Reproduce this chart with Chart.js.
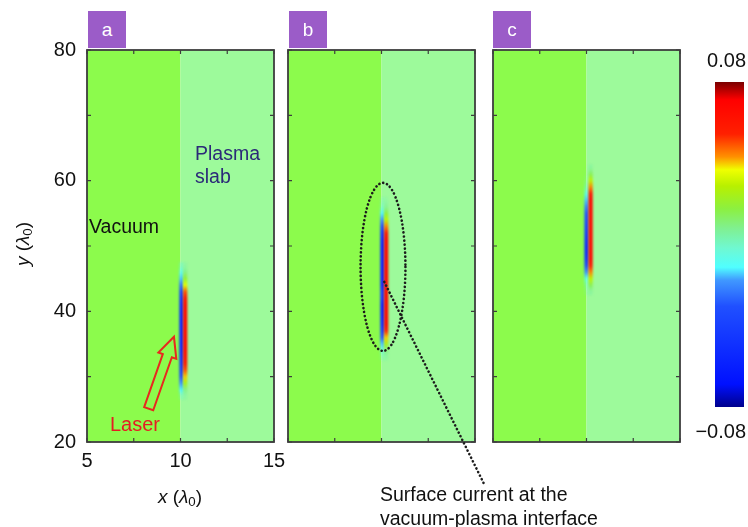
<!DOCTYPE html>
<html>
<head>
<meta charset="utf-8">
<script src="https://cdn.jsdelivr.net/npm/chart.js@4.4.0/dist/chart.umd.min.js"></script>
<style>
  body { margin: 0; background: #fff; font-family: "Liberation Sans", Arial, sans-serif; }
  #wrap { position: relative; width: 748px; height: 527px; overflow: hidden; }
  canvas { position: absolute; left: 0; top: 0; }
  #cbar { left: 690px; top: 40px; }
  .tag { position: absolute; top: 11px; width: 38px; height: 37px; background: #9b5cc8; color: #fff;
         font-size: 19px; text-align: center; line-height: 37px; }
  .txt { position: absolute; font-size: 19px; line-height: 24px; white-space: nowrap; color: #111; }
  .txt sub { font-size: 70%; vertical-align: -3px; line-height: 0; }
</style>
</head>
<body>
<div id="wrap">
  <canvas id="pa" width="748" height="527"></canvas>
  <canvas id="pb" width="748" height="527"></canvas>
  <canvas id="pc" width="748" height="527"></canvas>
  <canvas id="cbar" width="58" height="420"></canvas>

  <div class="tag" style="left:88px">a</div>
  <div class="tag" style="left:289px">b</div>
  <div class="tag" style="left:493px">c</div>

  <div class="txt" style="left:89px; top:214px; font-size:19.5px">Vacuum</div>
  <div class="txt" style="left:195px; top:142px; line-height:23px; font-size:19.5px; color:#2b2a78">Plasma<br>slab</div>
  <div class="txt" style="left:110px; top:412px; font-size:20px; color:#e51c23">Laser</div>
  <div class="txt" style="left:380px; top:482px; font-size:19.5px">Surface current at the<br>vacuum-plasma interface</div>

  <div class="txt" style="left:130px; top:485px; width:100px; text-align:center"><i>x</i> (<i>λ</i><sub>0</sub>)</div>
  <div class="txt" style="left:-27px; top:232px; width:100px; text-align:center; transform:rotate(-90deg)"><i>y</i> (<i>λ</i><sub>0</sub>)</div>
</div>

<script>
// simulation window (in laser wavelengths)
const xRange = [5, 15];
const yRange = [20, 80];
const interfaceX = 10;
const xLabels = [5, 10, 15];
const yLabels = [20, 40, 60, 80];
const colorRange = [-0.08, 0.08];
const colorTicks = [0.08, -0.08];

// surface current Jy along the interface: one column each side of the sign change
// (a) laser just hitting the slab
const aY = [27, 28, 29, 30, 31, 32, 33, 34, 35, 36, 37, 38, 39, 40, 41, 42, 43, 44, 45, 46, 47];
const aNeg = [-0.004, -0.012, -0.02, -0.035, -0.045, -0.05, -0.055, -0.058, -0.06, -0.06, -0.06,
              -0.06, -0.06, -0.058, -0.055, -0.05, -0.04, -0.025, -0.015, -0.01, -0.005];
const aPos = [0.004, 0.01, 0.025, 0.04, 0.05, 0.06, 0.065, 0.068, 0.068, 0.068, 0.068,
              0.068, 0.068, 0.068, 0.068, 0.062, 0.05, 0.035, 0.02, 0.01, 0.004];
const aColX = [10.05, 10.25];

// (b) current running up the surface
const bY = [33, 34, 35, 36, 37, 38, 39, 40, 41, 42, 43, 44, 45, 46, 47, 48, 49, 50, 51, 52, 53, 54, 55, 56, 57];
const bNeg = [-0.003, -0.008, -0.015, -0.03, -0.045, -0.055, -0.06, -0.062, -0.062, -0.05, -0.048,
              -0.062, -0.062, -0.062, -0.062, -0.062, -0.062, -0.062, -0.058, -0.05, -0.035,
              -0.02, -0.012, -0.006, -0.003];
const bPos = [0.004, 0.01, 0.025, 0.04, 0.055, 0.068, 0.068, 0.068, 0.068, 0.068, 0.068, 0.068,
              0.068, 0.068, 0.068, 0.068, 0.068, 0.068, 0.068, 0.06, 0.045, 0.03, 0.018, 0.008, 0.003];
const bColX = [10.05, 10.25];

// (c) later time
const cY = [43, 44, 45, 46, 47, 48, 49, 50, 51, 52, 53, 54, 55, 56, 57, 58, 59, 60, 61, 62];
const cNeg = [-0.002, -0.005, -0.01, -0.02, -0.035, -0.05, -0.055, -0.055, -0.05, -0.045,
              -0.04, -0.035, -0.03, -0.022, -0.015, -0.01, -0.006, -0.003, -0.001, 0];
const cPos = [0.006, 0.015, 0.03, 0.045, 0.058, 0.068, 0.068, 0.068, 0.068, 0.068,
              0.068, 0.068, 0.068, 0.068, 0.068, 0.06, 0.045, 0.03, 0.015, 0.006];
const cColX = [10.0, 10.22];

const FONT = '"Liberation Sans", Arial, sans-serif';

// jet-like colormap, t = 0 at -0.08 up to t = 1 at +0.08
const jetStops = [
  [0.00, [0, 0, 140]], [0.07, [0, 16, 255]], [0.31, [32, 80, 255]], [0.39, [64, 152, 255]],
  [0.43, [80, 255, 255]], [0.49, [112, 248, 208]], [0.55, [128, 240, 144]], [0.61, [140, 240, 64]],
  [0.68, [184, 240, 0]], [0.73, [240, 255, 0]], [0.77, [255, 144, 0]], [0.84, [255, 32, 0]],
  [0.945, [255, 0, 0]], [1.00, [122, 0, 0]]
];
function jet(v, alpha) {
  const t = Math.min(1, Math.max(0, (v - colorRange[0]) / (colorRange[1] - colorRange[0])));
  let rgb = jetStops[jetStops.length - 1][1];
  for (let i = 1; i < jetStops.length; i++) {
    const [t1, c1] = jetStops[i];
    if (t <= t1) {
      const [t0, c0] = jetStops[i - 1];
      const f = (t - t0) / (t1 - t0);
      rgb = c0.map((c, k) => Math.round(c + (c1[k] - c) * f));
      break;
    }
  }
  return 'rgba(' + rgb.join(',') + ',' + alpha + ')';
}

// background regions, current columns, frame and inward ticks
const fieldPlot = {
  id: 'fieldPlot',
  beforeDatasetsDraw(chart) {
    const { ctx, chartArea: a, scales: { x, y } } = chart;
    const xi = x.getPixelForValue(interfaceX);
    ctx.save();
    ctx.fillStyle = '#8cfb4c';
    ctx.fillRect(a.left, a.top, xi - a.left, a.height);
    ctx.fillStyle = '#9dfa9b';
    ctx.fillRect(xi, a.top, a.right - xi, a.height);
    ctx.beginPath();
    ctx.rect(a.left, a.top, a.width, a.height);
    ctx.clip();
    ctx.filter = 'blur(1.2px)';
    // each column is one strip, shaded through its points from top to bottom
    chart.data.datasets.forEach((ds, i) => {
      const pts = chart.getDatasetMeta(i).data;
      const d0 = ds.data[0];
      const w = x.getPixelForValue(d0.x + 0.11) - x.getPixelForValue(d0.x - 0.11);
      const h = y.getPixelForValue(d0.y) - y.getPixelForValue(d0.y + 1);
      const top = Math.min(...pts.map(p => p.y)) - h / 2;
      const bottom = Math.max(...pts.map(p => p.y)) + h / 2;
      const g = ctx.createLinearGradient(0, top, 0, bottom);
      pts.forEach((p, j) => {
        const v = ds.data[j].v;
        g.addColorStop((p.y - top) / (bottom - top), jet(v, Math.min(1, Math.abs(v) / 0.012)));
      });
      ctx.fillStyle = g;
      ctx.fillRect(pts[0].x - w / 2, top, w, bottom - top);
    });
    ctx.restore();
  },
  afterDatasetsDraw(chart) {
    const { ctx, chartArea: a, scales: { x, y } } = chart;
    ctx.save();
    ctx.strokeStyle = '#3d3d3d';
    ctx.lineWidth = 1.2;
    ctx.beginPath();
    x.ticks.forEach(t => {
      const px = x.getPixelForValue(t.value);
      ctx.moveTo(px, a.bottom); ctx.lineTo(px, a.bottom - 4);
      ctx.moveTo(px, a.top); ctx.lineTo(px, a.top + 4);
    });
    y.ticks.forEach(t => {
      const py = y.getPixelForValue(t.value);
      ctx.moveTo(a.left, py); ctx.lineTo(a.left + 4, py);
      ctx.moveTo(a.right, py); ctx.lineTo(a.right - 4, py);
    });
    ctx.stroke();
    ctx.lineWidth = 1.8;
    ctx.strokeRect(a.left, a.top, a.width, a.height);
    ctx.restore();
  }
};

// hollow red arrow for the incoming laser (panel a)
const laserArrow = {
  id: 'laserArrow',
  afterDraw(chart) {
    const { ctx, scales: { x, y } } = chart;
    const x0 = x.getPixelForValue(8.3), y0 = y.getPixelForValue(25.1);
    const x1 = x.getPixelForValue(9.65), y1 = y.getPixelForValue(36.1);
    const L = Math.hypot(x1 - x0, y1 - y0);
    const ux = (x1 - x0) / L, uy = (y1 - y0) / L, nx = -uy, ny = ux;
    const head = 20, hw = 9.5, sw = 4.8;
    const bx = x1 - ux * head, by = y1 - uy * head;
    const pts = [
      [x0 + nx * sw, y0 + ny * sw], [bx + nx * sw, by + ny * sw], [bx + nx * hw, by + ny * hw],
      [x1, y1], [bx - nx * hw, by - ny * hw], [bx - nx * sw, by - ny * sw], [x0 - nx * sw, y0 - ny * sw]
    ];
    ctx.save();
    ctx.strokeStyle = '#e8281e';
    ctx.lineWidth = 2;
    ctx.beginPath();
    pts.forEach(([px, py], i) => i ? ctx.lineTo(px, py) : ctx.moveTo(px, py));
    ctx.closePath();
    ctx.stroke();
    ctx.restore();
  }
};

// dotted ring round the surface current and the pointer to its caption (panel b)
const currentRing = {
  id: 'currentRing',
  afterDraw(chart) {
    const { ctx, scales: { x, y } } = chart;
    const cx = x.getPixelForValue(10.08), cy = y.getPixelForValue(46.8);
    const rx = x.getPixelForValue(10.08 + 1.2) - cx;
    const ry = cy - y.getPixelForValue(46.8 + 12.86);
    ctx.save();
    ctx.strokeStyle = '#1c1c1c';
    ctx.lineWidth = 2.6;
    ctx.lineCap = 'round';
    ctx.setLineDash([0.1, 3.9]);
    ctx.beginPath();
    ctx.ellipse(cx, cy, rx, ry, 0, 0, Math.PI * 2);
    ctx.stroke();
    ctx.beginPath();
    ctx.moveTo(x.getPixelForValue(10.15), y.getPixelForValue(44.5));
    ctx.lineTo(x.getPixelForValue(15.48), y.getPixelForValue(13.6));
    ctx.stroke();
    ctx.restore();
  }
};

function panel(id, ys, neg, pos, colX, withLabels, pad, extra) {
  const cells = (vals, cx) => ys.map((yy, i) => ({ x: cx, y: yy, v: vals[i] }));
  const tickFont = { family: FONT, size: 20 };
  return new Chart(document.getElementById(id), {
    type: 'scatter',
    data: {
      datasets: [
        { label: 'Jy < 0', data: cells(neg, colX[0]), pointRadius: 0 },
        { label: 'Jy > 0', data: cells(pos, colX[1]), pointRadius: 0 }
      ]
    },
    options: {
      responsive: false,
      animation: false,
      events: [],
      layout: { padding: pad },
      plugins: { legend: { display: false }, tooltip: { enabled: false } },
      scales: {
        x: {
          type: 'linear', min: xRange[0], max: xRange[1],
          grid: { display: false, drawTicks: false },
          border: { display: false },
          ticks: {
            display: withLabels, stepSize: 2.5, autoSkip: false, maxRotation: 0,
            padding: 7, color: '#111', font: tickFont,
            callback: v => xLabels.includes(v) ? String(v) : ''
          },
          afterFit: s => { s.height = 60; }
        },
        y: {
          type: 'linear', min: yRange[0], max: yRange[1],
          grid: { display: false, drawTicks: false },
          border: { display: false },
          ticks: {
            display: withLabels, stepSize: 10, autoSkip: false,
            padding: 11, color: '#111', font: tickFont,
            callback: v => yLabels.includes(v) ? String(v) : ''
          },
          afterFit: s => { s.width = 40; }
        }
      }
    },
    plugins: extra ? [fieldPlot, extra] : [fieldPlot]
  });
}

panel('pa', aY, aNeg, aPos, aColX, true, { left: 47, right: 474, top: 50, bottom: 25 }, laserArrow);
panel('pb', bY, bNeg, bPos, bColX, false, { left: 248, right: 273, top: 50, bottom: 25 }, currentRing);
panel('pc', cY, cNeg, cPos, cColX, false, { left: 453, right: 68, top: 50, bottom: 25 });

// colour bar
const barLabels = {
  id: 'barLabels',
  afterDraw(chart) {
    const { ctx, chartArea: a, scales: { y } } = chart;
    ctx.save();
    ctx.font = '20px ' + FONT;
    ctx.fillStyle = '#111';
    ctx.textAlign = 'right';
    ctx.textBaseline = 'middle';
    colorTicks.forEach(v => {
      const txt = v < 0 ? '\u2212' + Math.abs(v).toFixed(2) : v.toFixed(2);
      const py = y.getPixelForValue(v) + (v < 0 ? 25 : -21);
      ctx.fillText(txt, a.right + 2, py);
    });
    ctx.restore();
  }
};

new Chart(document.getElementById('cbar'), {
  type: 'bar',
  data: {
    labels: ['Jy'],
    datasets: [{
      data: [[colorRange[0], colorRange[1]]],
      barPercentage: 1,
      categoryPercentage: 1,
      borderWidth: 0,
      backgroundColor: c => {
        const a = c.chart.chartArea;
        if (!a) return '#8cf040';
        const g = c.chart.ctx.createLinearGradient(0, a.bottom, 0, a.top);
        jetStops.forEach(([t, rgb]) => g.addColorStop(t, 'rgb(' + rgb.join(',') + ')'));
        return g;
      }
    }]
  },
  options: {
    responsive: false,
    animation: false,
    events: [],
    layout: { padding: { left: 25, right: 4, top: 42, bottom: 53 } },
    plugins: { legend: { display: false }, tooltip: { enabled: false } },
    scales: {
      x: { display: false },
      y: { display: false, min: colorRange[0], max: colorRange[1] }
    }
  },
  plugins: [barLabels]
});
</script>
</body>
</html>
